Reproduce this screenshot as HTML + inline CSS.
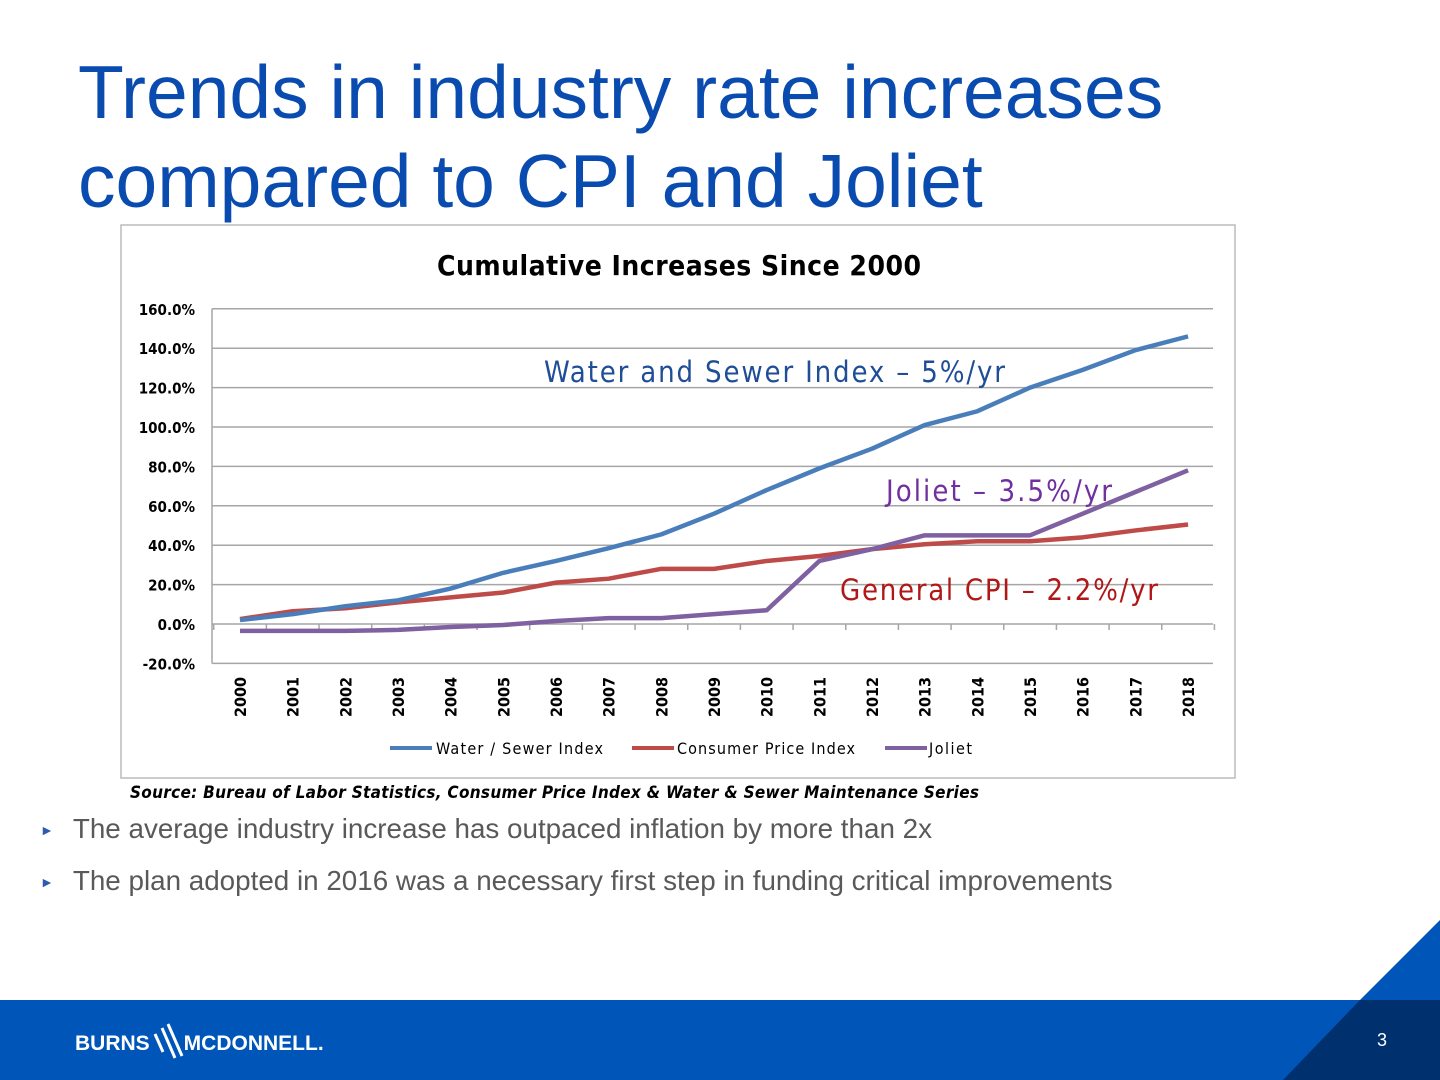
<!DOCTYPE html>
<html><head><meta charset="utf-8"><style>
body{margin:0;width:1440px;height:1080px;position:relative;background:#fff;font-family:"Liberation Sans",sans-serif;overflow:hidden}
.t{position:absolute;left:78px;top:48px;font-size:75px;line-height:89px;color:#0a4bb0;margin:0;font-weight:normal}
.b{position:absolute;left:40px;font-size:27.8px;color:#595959}
.b span{font-size:14px;color:#2a5cb0;margin-right:19px;position:relative;top:-3px}
</style></head><body>
<h1 class="t">Trends in industry rate increases<br>compared to CPI and Joliet</h1>
<svg width="1440" height="1080" style="position:absolute;left:0;top:0">
<rect x="121" y="225" width="1114" height="553" fill="#fff" stroke="#bbb" stroke-width="1.5"/>
<text x="437" y="275" textLength="484" font-family="DejaVu Sans Condensed,DejaVu Sans,sans-serif" font-weight="bold" font-size="28">Cumulative Increases Since 2000</text>
<g id="grid"></g><g id="lines"></g>
<text x="544" y="382" textLength="461" font-family="DejaVu Sans Condensed,DejaVu Sans,sans-serif" font-size="29" fill="#1f4e96">Water and Sewer Index – 5%/yr</text>
<text x="886" y="501" textLength="226" font-family="DejaVu Sans Condensed,DejaVu Sans,sans-serif" font-size="29" fill="#7030a0">Joliet – 3.5%/yr</text>
<text x="840" y="600" textLength="318" font-family="DejaVu Sans Condensed,DejaVu Sans,sans-serif" font-size="29" fill="#b01818">General CPI – 2.2%/yr</text>
<g font-family="DejaVu Sans Condensed,DejaVu Sans,sans-serif" font-size="16">
<line x1="390" y1="748" x2="432" y2="748" stroke="#4a7ebb" stroke-width="4"/><text x="436" y="754" textLength="167">Water / Sewer Index</text>
<line x1="632" y1="748" x2="674" y2="748" stroke="#be4b48" stroke-width="4"/><text x="677" y="754" textLength="178">Consumer Price Index</text>
<line x1="885" y1="748" x2="927" y2="748" stroke="#7f60a0" stroke-width="4"/><text x="929" y="754" textLength="43">Joliet</text>
</g>
<text x="130" y="798" textLength="849" font-family="DejaVu Sans Condensed,DejaVu Sans,sans-serif" font-size="17" font-weight="bold" font-style="italic">Source: Bureau of Labor Statistics, Consumer Price Index &amp; Water &amp; Sewer Maintenance Series</text>
<rect x="0" y="1000" width="1440" height="80" fill="#0055b8"/>
<polygon points="1440,920 1440,1000 1360,1000" fill="#0055b8"/>
<polygon points="1360,1000 1440,1000 1440,1080 1283,1080" fill="#00306e"/>
<text x="75" y="1050" fill="#fff" font-weight="bold" font-size="21">BURNS<tspan dx="34">MCDONNELL.</tspan></text>
<path d="M162 1028 L175 1058 M168 1024 L182 1056 M155 1034 L163 1052" stroke="#fff" stroke-width="3"/>
<text x="1377" y="1046" fill="#fff" font-size="18">3</text>
</svg>
<div class="b" style="top:813px"><span>►</span>The average industry increase has outpaced inflation by more than 2x</div>
<div class="b" style="top:865px"><span>►</span>The plan adopted in 2016 was a necessary first step in funding critical improvements</div>
<script>
const years=["2000","2001","2002","2003","2004","2005","2006","2007","2008","2009","2010","2011","2012","2013","2014","2015","2016","2017","2018"];
const water=[2,5,9,12,18,26,32,38.5,45.5,56,68,79,89,101,108,120,129,139,146];
const cpi=[2.5,6.5,8,11,13.5,16,21,23,28,28,32,34.5,38,40.5,42,42,44,47.5,50.5];
const joliet=[-3.5,-3.5,-3.5,-3,-1.5,-0.5,1.5,3,3,5,7,32,38,45,45,45,56,67,78];
const ticks=[-20,0,20,40,60,80,100,120,140,160];
const NS="http://www.w3.org/2000/svg";
const y=v=>624-v*1.97;
const x=i=>240+i*52.67;
const g=document.getElementById('grid'),L=document.getElementById('lines');
function mk(p,t,a){const e=document.createElementNS(NS,t);for(const k in a)e.setAttribute(k,a[k]);p.appendChild(e);return e;}
ticks.forEach(t=>{
 const ln=mk(g,'line',{x1:212,x2:1213,y1:y(t),y2:y(t),stroke:'#a6a6a6','stroke-width':1.5});
 
 
 const tx=mk(g,'text',{x:195,y:y(t)+6,'text-anchor':'end','font-size':15,'font-weight':'bold','font-family':'DejaVu Sans Condensed,DejaVu Sans,sans-serif'});
 tx.textContent=t.toFixed(1)+'%';
 
 
});
mk(g,'line',{x1:212,x2:212,y1:y(160),y2:y(-20),stroke:'#a6a6a6','stroke-width':1.5});
for(let i=0;i<=years.length;i++){mk(g,'line',{x1:x(i)-26.3,x2:x(i)-26.3,y1:y(0),y2:y(0)+6,stroke:'#a6a6a6','stroke-width':1.5});}
years.forEach((yr,i)=>{
 const tx=mk(g,'text',{transform:`translate(${x(i)+6},717) rotate(-90)`,'font-size':16,'font-weight':'bold','font-family':'DejaVu Sans Condensed,DejaVu Sans,sans-serif'});
 tx.textContent=yr;
 
 
});
[[cpi,'#be4b48','cpi-line'],[joliet,'#7f60a0','joliet-line'],[water,'#4a7ebb','water-sewer-line']].forEach(([d,c,n])=>{
 const p=mk(L,'polyline',{points:d.map((v,i)=>x(i)+','+y(v)).join(' '),fill:'none',stroke:c,'stroke-width':4.5,'stroke-linejoin':'round'});
 
 
});
</script>
</body></html>
